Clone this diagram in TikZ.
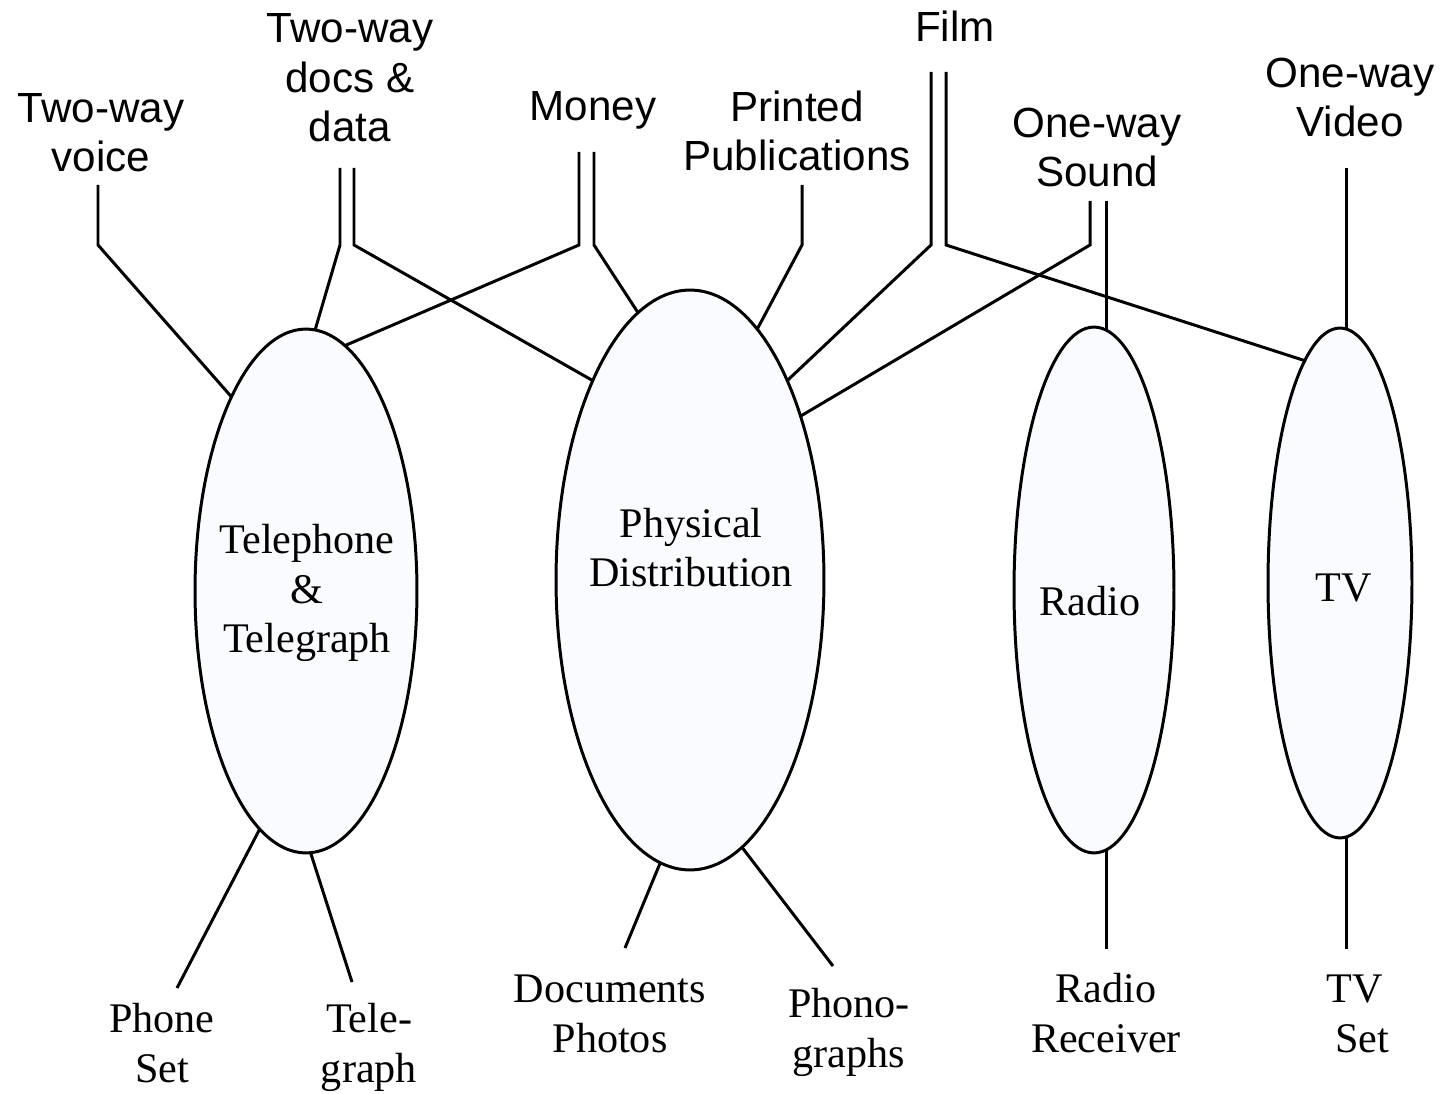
\documentclass[tikz,border=0pt]{standalone}
\usepackage{fontspec}
\setmainfont{Liberation Serif}
\setsansfont{Liberation Sans}
\usetikzlibrary{shapes.geometric,backgrounds}
\definecolor{ellfill}{RGB}{250,251,255}
\begin{document}
\begin{tikzpicture}[x=0.02cm,y=-0.02cm,
  conn/.style={line width=1.7pt},
  medium/.style={ellipse, draw, line width=1.7pt, fill=ellfill, inner sep=0pt, outer sep=0pt},
  toplabel/.style={font=\sffamily\fontsize{24}{28.35}\selectfont, align=center, anchor=base, inner sep=0pt},
  serlabel/.style={font=\rmfamily\fontsize{24}{28.35}\selectfont, align=center, anchor=base, inner sep=0pt}]
\useasboundingbox (0,0) rectangle (1441,1094);

% media ellipses
\node[medium, minimum width=4.44cm, minimum height=10.48cm] (tel) at (306,591) {};
\node[medium, minimum width=5.36cm, minimum height=11.6cm] (phys) at (690,580) {};
\node[medium, minimum width=3.2cm, minimum height=10.52cm] (radio) at (1094,590) {};
\node[medium, minimum width=2.88cm, minimum height=10.2cm] (tv) at (1340,583) {};

% ellipse labels (anchor = baseline of last line)
\node[serlabel] (ttel) at (307,653) {Telephone\\\&\\Telegraph};
\node[serlabel] (tphys) at (691,587) {Physical\\Distribution};
\node[serlabel] (tradio) at (1090,616) {Radio};
\node[serlabel] (ttv) at (1344,602) {TV};

% top labels
\node[toplabel] (lvoice) at (101,172) {Two-way\\voice};
\node[toplabel] (ldocs) at (350,142) {Two-way\\docs \&\\data};
\node[toplabel] (lmoney) at (593,121) {Money};
\node[toplabel] (lprint) at (797,171) {Printed\\Publications};
\node[toplabel] (lfilm) at (955,42) {Film};
\node[toplabel] (lsound) at (1097,187) {One-way\\Sound};
\node[toplabel] (lvideo) at (1350,137) {One-way\\Video};

% bottom labels
\node[serlabel] (bphone) at (162,1082) {Phone\\Set};
\node[serlabel] (btele) at (369,1082) {Tele-\\graph};
\node[serlabel] (bdoc) at (610,1052) {Documents\\Photos};
\node[serlabel] (bphono) at (849,1067) {Phono-\\graphs};
\node[serlabel] (bradio) at (1106,1052) {Radio\\Receiver};
\node[serlabel] (btv) at (1355,1052) {TV\\\hspace*{0.33em}Set};

% free ends of connectors
\coordinate (voiceT) at (98,185);  \coordinate (voiceB) at (98,245);
\coordinate (docsLT) at (340,168); \coordinate (docsLB) at (340,245);
\coordinate (docsRT) at (354,168); \coordinate (docsRB) at (354,245);
\coordinate (moneyLT) at (579,152); \coordinate (moneyLB) at (579,245);
\coordinate (moneyRT) at (594,152); \coordinate (moneyRB) at (594,245);
\coordinate (printT) at (802,185); \coordinate (printB) at (802,245);
\coordinate (filmLT) at (931,72); \coordinate (filmLB) at (931,245);
\coordinate (filmRT) at (946,72); \coordinate (filmRB) at (946,245);
\coordinate (soundLT) at (1090,201); \coordinate (soundLB) at (1090,245);
\coordinate (soundRT) at (1106,201);
\coordinate (videoT) at (1346,168);
\coordinate (phoneE) at (177,988);
\coordinate (teleE) at (352,982);
\coordinate (docE) at (625,948);
\coordinate (phonoE) at (833,966);
\coordinate (radioE) at (1106,949);
\coordinate (tvE) at (1346,949);

\begin{scope}[on background layer]
\draw[conn] (voiceT) -- (voiceB) -- (tel.111);
\draw[conn] (docsLT) -- (docsLB) -- (tel.88);
\draw[conn] (docsRT) -- (docsRB) -- (phys.116);
\draw[conn] (moneyLT) -- (moneyLB) -- (tel.81);
\draw[conn] (moneyRT) -- (moneyRB) -- (phys.101);
\draw[conn] (printT) -- (printB) -- (phys.75);
\draw[conn] (filmLT) -- (filmLB) -- (phys.64);
\draw[conn] (filmRT) -- (filmRB) -- (tv.99);
\draw[conn] (soundLT) -- (soundLB) -- (phys.56);
\draw[conn] (soundRT) -- (soundRT |- radio.center);
\draw[conn] (videoT) -- (videoT |- tv.center);
\draw[conn] (tel.259) -- (phoneE);
\draw[conn] (tel.271) -- (teleE);
\draw[conn] (phys.264) -- (docE);
\draw[conn] (phys.281) -- (phonoE);
\draw[conn] (radioE |- radio.center) -- (radioE);
\draw[conn] (tvE |- tv.center) -- (tvE);
\end{scope}
\end{tikzpicture}
\end{document}
